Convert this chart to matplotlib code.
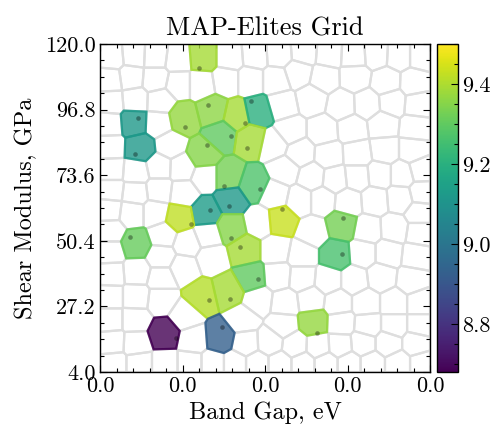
import numpy as np
import matplotlib.pyplot as plt
from matplotlib.patches import Polygon
from matplotlib.ticker import AutoMinorLocator, FormatStrFormatter
import matplotlib as mpl

plt.rcParams['font.family'] = 'serif'
plt.rcParams['font.serif'] = ['cmr10']
plt.rcParams['axes.formatter.use_mathtext'] = True
plt.rcParams['mathtext.fontset'] = 'cm'

# CVT centroids of the empty archive cells (normalised descriptor space)
grid_u = [0.036, 0.103, 0.167, 0.236, 0.394, 0.470, 0.542, 0.618, 0.694, 0.770, 0.836, 0.906, 0.973,
          0.030, 0.094, 0.167, 0.239, 0.306, 0.382, 0.455, 0.533, 0.600, 0.679, 0.773, 0.867, 0.952,
          0.033, 0.106, 0.182, 0.552, 0.642, 0.733, 0.809, 0.885, 0.964,
          0.027, 0.176, 0.576, 0.676, 0.764, 0.858, 0.955,
          0.030, 0.212, 0.527, 0.606, 0.694, 0.779, 0.864, 0.948,
          0.033, 0.109, 0.179, 0.248, 0.318, 0.561, 0.642, 0.712, 0.779, 0.848, 0.915, 0.973,
          0.033, 0.106, 0.179, 0.252, 0.530, 0.606, 0.673, 0.752, 0.833, 0.909, 0.976,
          0.027, 0.097, 0.167, 0.482, 0.970,
          0.030, 0.191, 0.264, 0.327, 0.645, 0.812, 0.891, 0.970,
          0.030, 0.185, 0.252, 0.339, 0.533, 0.612, 0.797, 0.873, 0.958,
          0.033, 0.112, 0.185, 0.539, 0.612, 0.691, 0.770, 0.852, 0.945,
          0.030, 0.109, 0.185, 0.479, 0.561, 0.639, 0.721, 0.806, 0.891, 0.970,
          0.030, 0.106, 0.258, 0.433, 0.555, 0.730, 0.812, 0.891, 0.970,
          0.036, 0.109, 0.282, 0.442, 0.515, 0.591, 0.661, 0.727, 0.797, 0.873, 0.958,
          0.042, 0.118, 0.197, 0.273, 0.342, 0.409, 0.476, 0.545, 0.615, 0.685, 0.755, 0.824, 0.903, 0.976]
grid_v = [0.960, 0.966, 0.963, 0.954, 0.960, 0.966, 0.970, 0.976, 0.970, 0.966, 0.970, 0.966, 0.966,
          0.890, 0.899, 0.893, 0.878, 0.878, 0.890, 0.890, 0.890, 0.912, 0.896, 0.899, 0.884, 0.881,
          0.823, 0.829, 0.826, 0.814, 0.832, 0.814, 0.817, 0.823, 0.817,
          0.756, 0.759, 0.735, 0.735, 0.741, 0.753, 0.744,
          0.686, 0.692, 0.695, 0.668, 0.662, 0.665, 0.677, 0.677,
          0.616, 0.610, 0.625, 0.622, 0.595, 0.616, 0.595, 0.588, 0.595, 0.601, 0.601, 0.616,
          0.555, 0.546, 0.555, 0.546, 0.540, 0.524, 0.524, 0.518, 0.524, 0.530, 0.546,
          0.494, 0.485, 0.485, 0.457, 0.485,
          0.430, 0.418, 0.393, 0.418, 0.427, 0.433, 0.436, 0.424,
          0.366, 0.351, 0.317, 0.348, 0.372, 0.357, 0.363, 0.363, 0.354,
          0.299, 0.305, 0.287, 0.293, 0.287, 0.280, 0.280, 0.290, 0.280,
          0.229, 0.229, 0.220, 0.220, 0.210, 0.220, 0.210, 0.210, 0.210, 0.210,
          0.159, 0.159, 0.171, 0.159, 0.143, 0.149, 0.143, 0.143, 0.143,
          0.091, 0.088, 0.098, 0.088, 0.091, 0.082, 0.079, 0.082, 0.088, 0.088, 0.088,
          0.024, 0.024, 0.024, 0.024, 0.024, 0.024, 0.024, 0.024, 0.024, 0.024, 0.024, 0.024, 0.024, 0.024]

# filled cells: centroid, elite descriptor and fitness
elite_u = [0.312, 0.103, 0.121, 0.252, 0.342, 0.415, 0.479, 0.367, 0.458, 0.312, 0.388, 0.464, 0.397, 0.321,
           0.239, 0.109, 0.397, 0.439, 0.458, 0.309, 0.388, 0.194, 0.364, 0.548, 0.733, 0.715, 0.648]
elite_v = [0.960, 0.762, 0.683, 0.774, 0.796, 0.780, 0.793, 0.723, 0.710, 0.662, 0.595, 0.570, 0.524, 0.485,
           0.470, 0.390, 0.439, 0.372, 0.287, 0.229, 0.247, 0.116, 0.104, 0.463, 0.448, 0.357, 0.152]
sol_u = [0.300, 0.115, 0.106, 0.258, 0.327, 0.439, 0.458, 0.397, 0.445, 0.324, 0.376, 0.485, 0.391, 0.333,
         0.276, 0.091, 0.397, 0.424, 0.479, 0.330, 0.394, 0.230, 0.370, 0.552, 0.736, 0.733, 0.658]
sol_v = [0.927, 0.774, 0.665, 0.747, 0.814, 0.759, 0.826, 0.720, 0.683, 0.692, 0.567, 0.558, 0.506, 0.494,
         0.451, 0.412, 0.409, 0.381, 0.284, 0.220, 0.223, 0.104, 0.137, 0.497, 0.470, 0.360, 0.119]
fitness = [9.39, 9.12, 9.12, 9.37, 9.36, 9.39, 9.20, 9.30, 9.39, 9.35, 9.33, 9.27, 9.12, 9.13,
           9.42, 9.31, 9.35, 9.39, 9.30, 9.41, 9.39, 8.68, 8.93, 9.43, 9.33, 9.26, 9.37]

band_gap_lim = (0.0, 0.04)
shear_lim = (4.0, 120.0)


def clip(poly, a, b, c):
    # keep the part of poly with a*x + b*y <= c
    out = []
    n = len(poly)
    for k in range(n):
        p, q = poly[k], poly[(k + 1) % n]
        fp = a * p[0] + b * p[1] - c
        fq = a * q[0] + b * q[1] - c
        if fp <= 0:
            out.append(p)
        if fp * fq < 0:
            t = fp / (fp - fq)
            out.append((p[0] + t * (q[0] - p[0]), p[1] + t * (q[1] - p[1])))
    return out


def voronoi_cell(i, pts):
    poly = [(0.0, 0.0), (1.0, 0.0), (1.0, 1.0), (0.0, 1.0)]
    p = pts[i]
    for j in range(len(pts)):
        if j == i:
            continue
        d = pts[j] - p
        m = (pts[j] + p) / 2
        poly = clip(poly, d[0], d[1], d @ m)
    return np.array(poly)


def to_data(u, v):
    x = band_gap_lim[0] + np.asarray(u) * (band_gap_lim[1] - band_gap_lim[0])
    y = shear_lim[0] + np.asarray(v) * (shear_lim[1] - shear_lim[0])
    return x, y


pts = np.column_stack([grid_u + elite_u, grid_v + elite_v])
n_empty = len(grid_u)

cmap = plt.get_cmap('viridis')
norm = mpl.colors.Normalize(vmin=8.68, vmax=9.5)

fig = plt.figure(figsize=(4.91, 4.28), dpi=100)
ax = fig.add_axes([0.2037, 0.1308, 0.6721, 0.7664])

for i in range(n_empty):
    cell = voronoi_cell(i, pts)
    x, y = to_data(cell[:, 0], cell[:, 1])
    ax.add_patch(Polygon(np.column_stack([x, y]), closed=True, fill=False,
                         edgecolor='#dedede', lw=1.6, zorder=1))

for i in range(n_empty, len(pts)):
    cell = voronoi_cell(i, pts)
    x, y = to_data(cell[:, 0], cell[:, 1])
    col = cmap(norm(fitness[i - n_empty]))
    ax.add_patch(Polygon(np.column_stack([x, y]), closed=True, facecolor=(*col[:3], 0.8),
                         edgecolor=(*col[:3], 0.9), lw=1.6, zorder=2))

sx, sy = to_data(sol_u, sol_v)
ax.scatter(sx, sy, s=11, c='k', alpha=0.35, lw=0, zorder=3)

ax.set_xlim(*band_gap_lim)
ax.set_ylim(*shear_lim)
ax.set_xticks(np.linspace(band_gap_lim[0], band_gap_lim[1], 5))
ax.set_yticks(np.linspace(shear_lim[0], shear_lim[1], 6))
ax.xaxis.set_major_formatter(FormatStrFormatter('%.1f'))
ax.yaxis.set_major_formatter(FormatStrFormatter('%.1f'))
ax.xaxis.set_minor_locator(AutoMinorLocator(5))
ax.yaxis.set_minor_locator(AutoMinorLocator(4))
ax.tick_params(which='both', direction='in', top=True, right=True, labelsize=16, width=0.8)
ax.tick_params(which='major', length=5, pad=3)
ax.tick_params(which='minor', length=2.8)
for s in ax.spines.values():
    s.set_linewidth(1.0)

ax.set_xlabel('Band Gap, eV', fontsize=17.5, labelpad=4)
ax.set_ylabel('Shear Modulus, GPa', fontsize=17.5, labelpad=6)
ax.set_title('MAP-Elites Grid', fontsize=19, pad=6)

cax = fig.add_axes([0.890, 0.1308, 0.043, 0.7664])
sm = mpl.cm.ScalarMappable(norm=norm, cmap=cmap)
cb = fig.colorbar(sm, cax=cax)
cb.set_ticks([8.8, 9.0, 9.2, 9.4])
cb.ax.yaxis.set_major_formatter(FormatStrFormatter('%.1f'))
cb.ax.yaxis.set_minor_locator(AutoMinorLocator(4))
cb.ax.tick_params(which='both', direction='in', labelsize=16, width=0.8, pad=3)
cb.ax.tick_params(which='major', length=5)
cb.ax.tick_params(which='minor', length=2.8)
cb.outline.set_linewidth(1.0)

fig.savefig('out.png', dpi=100)
